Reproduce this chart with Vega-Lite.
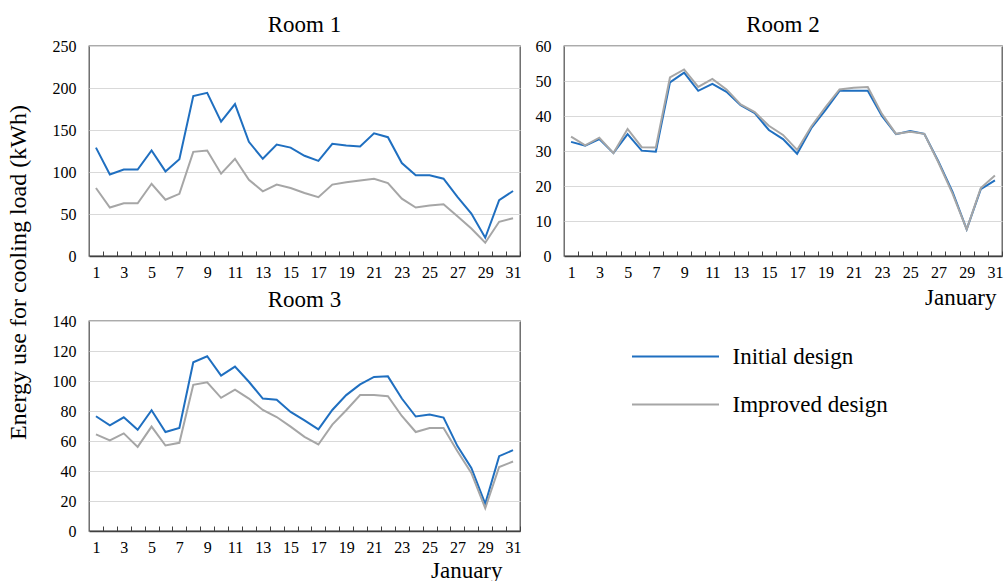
{
 "$schema": "https://vega.github.io/schema/vega-lite/v6.json",
 "padding": {"left": 5, "top": 13, "right": 0, "bottom": 0},
 "background": "white",
 "datasets": {"d": [
{"room":"Room 1","design":"Initial design","day":1,"kWh":129},{"room":"Room 1","design":"Initial design","day":2,"kWh":97},{"room":"Room 1","design":"Initial design","day":3,"kWh":103},{"room":"Room 1","design":"Initial design","day":4,"kWh":103},{"room":"Room 1","design":"Initial design","day":5,"kWh":125.6},{"room":"Room 1","design":"Initial design","day":6,"kWh":100.7},{"room":"Room 1","design":"Initial design","day":7,"kWh":115.3},{"room":"Room 1","design":"Initial design","day":8,"kWh":190.4},{"room":"Room 1","design":"Initial design","day":9,"kWh":194.3},{"room":"Room 1","design":"Initial design","day":10,"kWh":160},{"room":"Room 1","design":"Initial design","day":11,"kWh":180.9},{"room":"Room 1","design":"Initial design","day":12,"kWh":135.9},{"room":"Room 1","design":"Initial design","day":13,"kWh":115.7},{"room":"Room 1","design":"Initial design","day":14,"kWh":132.7},{"room":"Room 1","design":"Initial design","day":15,"kWh":129},{"room":"Room 1","design":"Initial design","day":16,"kWh":119.3},{"room":"Room 1","design":"Initial design","day":17,"kWh":113.3},{"room":"Room 1","design":"Initial design","day":18,"kWh":133.5},{"room":"Room 1","design":"Initial design","day":19,"kWh":131.5},{"room":"Room 1","design":"Initial design","day":20,"kWh":130.3},{"room":"Room 1","design":"Initial design","day":21,"kWh":146},{"room":"Room 1","design":"Initial design","day":22,"kWh":141.4},{"room":"Room 1","design":"Initial design","day":23,"kWh":110.6},{"room":"Room 1","design":"Initial design","day":24,"kWh":96},{"room":"Room 1","design":"Initial design","day":25,"kWh":96},{"room":"Room 1","design":"Initial design","day":26,"kWh":92},{"room":"Room 1","design":"Initial design","day":27,"kWh":70.3},{"room":"Room 1","design":"Initial design","day":28,"kWh":50.5},{"room":"Room 1","design":"Initial design","day":29,"kWh":21.7},{"room":"Room 1","design":"Initial design","day":30,"kWh":66.4},{"room":"Room 1","design":"Initial design","day":31,"kWh":77.4},
{"room":"Room 1","design":"Improved design","day":1,"kWh":81},{"room":"Room 1","design":"Improved design","day":2,"kWh":57.7},{"room":"Room 1","design":"Improved design","day":3,"kWh":62.8},{"room":"Room 1","design":"Improved design","day":4,"kWh":62.8},{"room":"Room 1","design":"Improved design","day":5,"kWh":86},{"room":"Room 1","design":"Improved design","day":6,"kWh":67},{"room":"Room 1","design":"Improved design","day":7,"kWh":74},{"room":"Room 1","design":"Improved design","day":8,"kWh":124},{"room":"Room 1","design":"Improved design","day":9,"kWh":125.6},{"room":"Room 1","design":"Improved design","day":10,"kWh":98},{"room":"Room 1","design":"Improved design","day":11,"kWh":115.7},{"room":"Room 1","design":"Improved design","day":12,"kWh":90.8},{"room":"Room 1","design":"Improved design","day":13,"kWh":77},{"room":"Room 1","design":"Improved design","day":14,"kWh":85},{"room":"Room 1","design":"Improved design","day":15,"kWh":81},{"room":"Room 1","design":"Improved design","day":16,"kWh":75},{"room":"Room 1","design":"Improved design","day":17,"kWh":70},{"room":"Room 1","design":"Improved design","day":18,"kWh":85},{"room":"Room 1","design":"Improved design","day":19,"kWh":87.7},{"room":"Room 1","design":"Improved design","day":20,"kWh":90},{"room":"Room 1","design":"Improved design","day":21,"kWh":92},{"room":"Room 1","design":"Improved design","day":22,"kWh":86.9},{"room":"Room 1","design":"Improved design","day":23,"kWh":68.3},{"room":"Room 1","design":"Improved design","day":24,"kWh":57.7},{"room":"Room 1","design":"Improved design","day":25,"kWh":60},{"room":"Room 1","design":"Improved design","day":26,"kWh":61.6},{"room":"Room 1","design":"Improved design","day":27,"kWh":47.4},{"room":"Room 1","design":"Improved design","day":28,"kWh":32.8},{"room":"Room 1","design":"Improved design","day":29,"kWh":15.8},{"room":"Room 1","design":"Improved design","day":30,"kWh":40.7},{"room":"Room 1","design":"Improved design","day":31,"kWh":45},
{"room":"Room 2","design":"Initial design","day":1,"kWh":32.6},{"room":"Room 2","design":"Initial design","day":2,"kWh":31.5},{"room":"Room 2","design":"Initial design","day":3,"kWh":33.4},{"room":"Room 2","design":"Initial design","day":4,"kWh":29.4},{"room":"Room 2","design":"Initial design","day":5,"kWh":34.8},{"room":"Room 2","design":"Initial design","day":6,"kWh":30.1},{"room":"Room 2","design":"Initial design","day":7,"kWh":29.8},{"room":"Room 2","design":"Initial design","day":8,"kWh":49.6},{"room":"Room 2","design":"Initial design","day":9,"kWh":52.4},{"room":"Room 2","design":"Initial design","day":10,"kWh":47.2},{"room":"Room 2","design":"Initial design","day":11,"kWh":49.2},{"room":"Room 2","design":"Initial design","day":12,"kWh":46.9},{"room":"Room 2","design":"Initial design","day":13,"kWh":43.1},{"room":"Room 2","design":"Initial design","day":14,"kWh":40.8},{"room":"Room 2","design":"Initial design","day":15,"kWh":36},{"room":"Room 2","design":"Initial design","day":16,"kWh":33.4},{"room":"Room 2","design":"Initial design","day":17,"kWh":29.2},{"room":"Room 2","design":"Initial design","day":18,"kWh":36.5},{"room":"Room 2","design":"Initial design","day":19,"kWh":41.7},{"room":"Room 2","design":"Initial design","day":20,"kWh":47.2},{"room":"Room 2","design":"Initial design","day":21,"kWh":47.2},{"room":"Room 2","design":"Initial design","day":22,"kWh":47.2},{"room":"Room 2","design":"Initial design","day":23,"kWh":40},{"room":"Room 2","design":"Initial design","day":24,"kWh":34.8},{"room":"Room 2","design":"Initial design","day":25,"kWh":35.7},{"room":"Room 2","design":"Initial design","day":26,"kWh":34.9},{"room":"Room 2","design":"Initial design","day":27,"kWh":27},{"room":"Room 2","design":"Initial design","day":28,"kWh":18.3},{"room":"Room 2","design":"Initial design","day":29,"kWh":7.6},{"room":"Room 2","design":"Initial design","day":30,"kWh":19.1},{"room":"Room 2","design":"Initial design","day":31,"kWh":21.6},
{"room":"Room 2","design":"Improved design","day":1,"kWh":34.1},{"room":"Room 2","design":"Improved design","day":2,"kWh":31.6},{"room":"Room 2","design":"Improved design","day":3,"kWh":33.8},{"room":"Room 2","design":"Improved design","day":4,"kWh":29.4},{"room":"Room 2","design":"Improved design","day":5,"kWh":36.3},{"room":"Room 2","design":"Improved design","day":6,"kWh":31.1},{"room":"Room 2","design":"Improved design","day":7,"kWh":31},{"room":"Room 2","design":"Improved design","day":8,"kWh":51},{"room":"Room 2","design":"Improved design","day":9,"kWh":53.3},{"room":"Room 2","design":"Improved design","day":10,"kWh":48.3},{"room":"Room 2","design":"Improved design","day":11,"kWh":50.6},{"room":"Room 2","design":"Improved design","day":12,"kWh":47.6},{"room":"Room 2","design":"Improved design","day":13,"kWh":43.3},{"room":"Room 2","design":"Improved design","day":14,"kWh":41.1},{"room":"Room 2","design":"Improved design","day":15,"kWh":37.2},{"room":"Room 2","design":"Improved design","day":16,"kWh":34.6},{"room":"Room 2","design":"Improved design","day":17,"kWh":30.3},{"room":"Room 2","design":"Improved design","day":18,"kWh":37},{"room":"Room 2","design":"Improved design","day":19,"kWh":42.5},{"room":"Room 2","design":"Improved design","day":20,"kWh":47.6},{"room":"Room 2","design":"Improved design","day":21,"kWh":48.1},{"room":"Room 2","design":"Improved design","day":22,"kWh":48.3},{"room":"Room 2","design":"Improved design","day":23,"kWh":40.6},{"room":"Room 2","design":"Improved design","day":24,"kWh":34.9},{"room":"Room 2","design":"Improved design","day":25,"kWh":35.5},{"room":"Room 2","design":"Improved design","day":26,"kWh":34.9},{"room":"Room 2","design":"Improved design","day":27,"kWh":26.7},{"room":"Room 2","design":"Improved design","day":28,"kWh":17.8},{"room":"Room 2","design":"Improved design","day":29,"kWh":7.6},{"room":"Room 2","design":"Improved design","day":30,"kWh":19.4},{"room":"Room 2","design":"Improved design","day":31,"kWh":23},
{"room":"Room 3","design":"Initial design","day":1,"kWh":76.5},{"room":"Room 3","design":"Initial design","day":2,"kWh":70.5},{"room":"Room 3","design":"Initial design","day":3,"kWh":75.8},{"room":"Room 3","design":"Initial design","day":4,"kWh":67.5},{"room":"Room 3","design":"Initial design","day":5,"kWh":80.5},{"room":"Room 3","design":"Initial design","day":6,"kWh":66},{"room":"Room 3","design":"Initial design","day":7,"kWh":68.7},{"room":"Room 3","design":"Initial design","day":8,"kWh":112.5},{"room":"Room 3","design":"Initial design","day":9,"kWh":116.5},{"room":"Room 3","design":"Initial design","day":10,"kWh":103.6},{"room":"Room 3","design":"Initial design","day":11,"kWh":109.6},{"room":"Room 3","design":"Initial design","day":12,"kWh":99.5},{"room":"Room 3","design":"Initial design","day":13,"kWh":88.3},{"room":"Room 3","design":"Initial design","day":14,"kWh":87.5},{"room":"Room 3","design":"Initial design","day":15,"kWh":79.4},{"room":"Room 3","design":"Initial design","day":16,"kWh":73.8},{"room":"Room 3","design":"Initial design","day":17,"kWh":67.8},{"room":"Room 3","design":"Initial design","day":18,"kWh":80.7},{"room":"Room 3","design":"Initial design","day":19,"kWh":90.6},{"room":"Room 3","design":"Initial design","day":20,"kWh":97.7},{"room":"Room 3","design":"Initial design","day":21,"kWh":102.7},{"room":"Room 3","design":"Initial design","day":22,"kWh":103.1},{"room":"Room 3","design":"Initial design","day":23,"kWh":88.3},{"room":"Room 3","design":"Initial design","day":24,"kWh":76.3},{"room":"Room 3","design":"Initial design","day":25,"kWh":77.6},{"room":"Room 3","design":"Initial design","day":26,"kWh":75.6},{"room":"Room 3","design":"Initial design","day":27,"kWh":56.6},{"room":"Room 3","design":"Initial design","day":28,"kWh":42},{"room":"Room 3","design":"Initial design","day":29,"kWh":18.1},{"room":"Room 3","design":"Initial design","day":30,"kWh":49.9},{"room":"Room 3","design":"Initial design","day":31,"kWh":53.9},
{"room":"Room 3","design":"Improved design","day":1,"kWh":64.4},{"room":"Room 3","design":"Improved design","day":2,"kWh":60.4},{"room":"Room 3","design":"Improved design","day":3,"kWh":65.1},{"room":"Room 3","design":"Improved design","day":4,"kWh":56.1},{"room":"Room 3","design":"Improved design","day":5,"kWh":69.6},{"room":"Room 3","design":"Improved design","day":6,"kWh":57},{"room":"Room 3","design":"Improved design","day":7,"kWh":58.8},{"room":"Room 3","design":"Improved design","day":8,"kWh":97.5},{"room":"Room 3","design":"Improved design","day":9,"kWh":99.1},{"room":"Room 3","design":"Improved design","day":10,"kWh":88.8},{"room":"Room 3","design":"Improved design","day":11,"kWh":94.2},{"room":"Room 3","design":"Improved design","day":12,"kWh":88.3},{"room":"Room 3","design":"Improved design","day":13,"kWh":80.7},{"room":"Room 3","design":"Improved design","day":14,"kWh":76},{"room":"Room 3","design":"Improved design","day":15,"kWh":69.6},{"room":"Room 3","design":"Improved design","day":16,"kWh":62.8},{"room":"Room 3","design":"Improved design","day":17,"kWh":57.7},{"room":"Room 3","design":"Improved design","day":18,"kWh":70.9},{"room":"Room 3","design":"Improved design","day":19,"kWh":80.5},{"room":"Room 3","design":"Improved design","day":20,"kWh":90.6},{"room":"Room 3","design":"Improved design","day":21,"kWh":90.6},{"room":"Room 3","design":"Improved design","day":22,"kWh":89.9},{"room":"Room 3","design":"Improved design","day":23,"kWh":76.7},{"room":"Room 3","design":"Improved design","day":24,"kWh":66},{"room":"Room 3","design":"Improved design","day":25,"kWh":68.7},{"room":"Room 3","design":"Improved design","day":26,"kWh":68.7},{"room":"Room 3","design":"Improved design","day":27,"kWh":53.2},{"room":"Room 3","design":"Improved design","day":28,"kWh":38.7},{"room":"Room 3","design":"Improved design","day":29,"kWh":15.2},{"room":"Room 3","design":"Improved design","day":30,"kWh":42.7},{"room":"Room 3","design":"Improved design","day":31,"kWh":46.3}
 ]},
 "data": {"name": "d"},
 "config": {
   "font": "Liberation Serif",
   "view": {"stroke": "#595959", "strokeWidth": 1.3},
   "axis": {"labelFont": "Liberation Serif", "labelFontSize": 16, "labelColor": "black", "titleFont": "Liberation Serif", "titleFontWeight": "normal", "titleColor": "black", "gridColor": "#d9d9d9", "gridWidth": 1},
   "axisY": {"grid": true, "ticks": false, "domain": false, "labelPadding": 13},
   "title": {"font": "Liberation Serif", "fontSize": 23, "fontWeight": "normal", "color": "black", "baseline": "alphabetic", "offset": 1},
   "legend": {"orient": "none", "legendX": 575, "legendY": 299, "title": null, "symbolType": "M-4.35,0H4.35", "symbolSize": 400, "symbolStrokeWidth": 2, "labelFont": "Liberation Serif", "labelFontSize": 23, "labelColor": "black", "labelOffset": 45.5, "rowPadding": 24, "padding": 0, "labelLimit": 400}
 },
 "columns": 2,
 "spacing": {"row": 65, "column": 44},
 "bounds": "flush",
 "resolve": {"scale": {"x": "independent", "y": "independent", "color": "shared"}},
 "concat": [
  {
   "width": 431, "height": 210,
   "title": "Room 1",
   "transform": [{"filter": "datum.room === 'Room 1'"}],
   "mark": {"type": "line", "strokeWidth": 2},
   "encoding": {
     "x": {"field": "day", "type": "quantitative", "scale": {"domain": [0.5, 31.5], "nice": false, "zero": false}, "axis": {"title": null, "values": [1.5,2.5,3.5,4.5,5.5,6.5,7.5,8.5,9.5,10.5,11.5,12.5,13.5,14.5,15.5,16.5,17.5,18.5,19.5,20.5,21.5,22.5,23.5,24.5,25.5,26.5,27.5,28.5,29.5,30.5,31.5], "labelExpr": "(datum.value - 0.5) % 2 == 1 ? '' + (datum.value - 0.5) : ''", "labelFont": "Liberation Serif", "labelFontSize": 16, "labelOffset": -7, "tickSize": -5, "labelPadding": 13, "grid": false, "domainColor": "#404040", "domainWidth": 1.3, "tickColor": "#404040", "labelFlush": false, "labelOverlap": false}},
     "y": {"field": "kWh", "type": "quantitative", "scale": {"domain": [0, 250], "nice": false}, "axis": {"values": [0, 50, 100, 150, 200, 250], "labelFont": "Liberation Serif", "title": "Energy use for cooling load (kWh)", "titleFontSize": 24, "titleAngle": 270, "titleAlign": "center", "titleBaseline": "alphabetic", "titleX": -64, "titleY": 226}},
     "color": {"field": "design", "type": "nominal", "sort": ["Initial design", "Improved design"], "scale": {"domain": ["Initial design", "Improved design"], "range": ["#1f6fc0", "#a6a6a6"]}}
   }
  },
  {
   "width": 438, "height": 210,
   "title": "Room 2",
   "transform": [{"filter": "datum.room === 'Room 2'"}],
   "mark": {"type": "line", "strokeWidth": 2},
   "encoding": {
     "x": {"field": "day", "type": "quantitative", "scale": {"domain": [0.5, 31.5], "nice": false, "zero": false}, "axis": {"title": "January", "titleFontSize": 23, "titleAlign": "right", "titleBaseline": "alphabetic", "titleX": 432, "titleY": 48, "values": [1.5,2.5,3.5,4.5,5.5,6.5,7.5,8.5,9.5,10.5,11.5,12.5,13.5,14.5,15.5,16.5,17.5,18.5,19.5,20.5,21.5,22.5,23.5,24.5,25.5,26.5,27.5,28.5,29.5,30.5,31.5], "labelExpr": "(datum.value - 0.5) % 2 == 1 ? '' + (datum.value - 0.5) : ''", "labelFont": "Liberation Serif", "labelFontSize": 16, "labelOffset": -7, "tickSize": -5, "labelPadding": 13, "grid": false, "domainColor": "#404040", "domainWidth": 1.3, "tickColor": "#404040", "labelFlush": false, "labelOverlap": false}},
     "y": {"field": "kWh", "type": "quantitative", "scale": {"domain": [0, 60], "nice": false}, "axis": {"values": [0, 10, 20, 30, 40, 50, 60], "labelFont": "Liberation Serif", "title": null}},
     "color": {"field": "design", "type": "nominal", "sort": ["Initial design", "Improved design"], "scale": {"domain": ["Initial design", "Improved design"], "range": ["#1f6fc0", "#a6a6a6"]}}
   }
  },
  {
   "width": 431, "height": 210,
   "title": "Room 3",
   "transform": [{"filter": "datum.room === 'Room 3'"}],
   "mark": {"type": "line", "strokeWidth": 2},
   "encoding": {
     "x": {"field": "day", "type": "quantitative", "scale": {"domain": [0.5, 31.5], "nice": false, "zero": false}, "axis": {"title": "January", "titleFontSize": 23, "titleAlign": "right", "titleBaseline": "alphabetic", "titleX": 413, "titleY": 46, "values": [1.5,2.5,3.5,4.5,5.5,6.5,7.5,8.5,9.5,10.5,11.5,12.5,13.5,14.5,15.5,16.5,17.5,18.5,19.5,20.5,21.5,22.5,23.5,24.5,25.5,26.5,27.5,28.5,29.5,30.5,31.5], "labelExpr": "(datum.value - 0.5) % 2 == 1 ? '' + (datum.value - 0.5) : ''", "labelFont": "Liberation Serif", "labelFontSize": 16, "labelOffset": -7, "tickSize": -5, "labelPadding": 13, "grid": false, "domainColor": "#404040", "domainWidth": 1.3, "tickColor": "#404040", "labelFlush": false, "labelOverlap": false}},
     "y": {"field": "kWh", "type": "quantitative", "scale": {"domain": [0, 140], "nice": false}, "axis": {"values": [0, 20, 40, 60, 80, 100, 120, 140], "labelFont": "Liberation Serif", "title": null}},
     "color": {"field": "design", "type": "nominal", "sort": ["Initial design", "Improved design"], "scale": {"domain": ["Initial design", "Improved design"], "range": ["#1f6fc0", "#a6a6a6"]}}
   }
  }
 ]
}
